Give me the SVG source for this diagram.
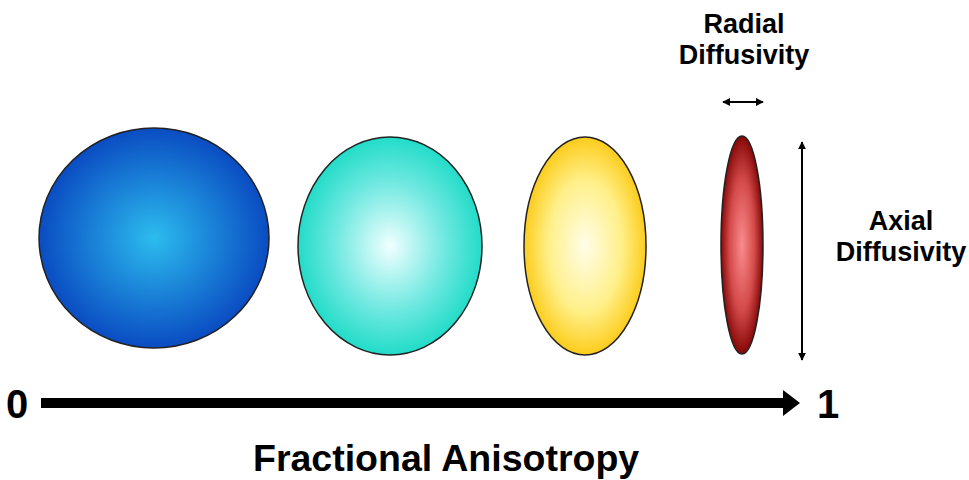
<svg xmlns="http://www.w3.org/2000/svg" width="969" height="480" viewBox="0 0 969 480">
<style>
.lbl{font-family:"Liberation Sans",Arial,sans-serif;font-weight:bold;font-size:27px;fill:#000;text-anchor:middle}
.ax{font-family:"Liberation Sans",Arial,sans-serif;font-weight:bold;font-size:40px;fill:#000}
.ell{stroke:#222;stroke-width:1.5}
.thin{stroke:#000;stroke-width:2;fill:none}
</style>
<defs>
<radialGradient id="gBlue" cx="0.5" cy="0.5" r="0.5">
<stop offset="0" stop-color="#2cbcee"/>
<stop offset="1" stop-color="#0a4cc2"/>
</radialGradient>
<radialGradient id="gCyan" cx="0.5" cy="0.5" r="0.5">
<stop offset="0" stop-color="#f0ffff"/>
<stop offset="0.6" stop-color="#6ee8e0"/>
<stop offset="1" stop-color="#22dcc8"/>
</radialGradient>
<radialGradient id="gYellow" cx="0.5" cy="0.5" r="0.5">
<stop offset="0" stop-color="#fffde8"/>
<stop offset="0.6" stop-color="#fff08a"/>
<stop offset="1" stop-color="#fccc1c"/>
</radialGradient>
<radialGradient id="gRed" cx="0.5" cy="0.5" r="0.5">
<stop offset="0" stop-color="#fa8c8c"/>
<stop offset="0.6" stop-color="#d44a4a"/>
<stop offset="1" stop-color="#860808"/>
</radialGradient>
<marker id="ah" viewBox="0 0 10 10" refX="9" refY="5" markerWidth="4" markerHeight="4" orient="auto-start-reverse" markerUnits="strokeWidth">
<path d="M0,0 L10,5 L0,10 z" fill="#000"/>
</marker>
</defs>
<g id="sphere-blue"><ellipse class="ell" cx="154" cy="238" rx="115" ry="110" fill="url(#gBlue)"/></g>
<g id="ellipsoid-cyan"><ellipse class="ell" cx="390" cy="246" rx="92" ry="109" fill="url(#gCyan)"/></g>
<g id="ellipsoid-yellow"><ellipse class="ell" cx="585" cy="246" rx="61" ry="109" fill="url(#gYellow)"/></g>
<g id="ellipsoid-red"><ellipse class="ell" cx="742" cy="245" rx="21" ry="109" fill="url(#gRed)"/></g>
<g id="label-radial"><text class="lbl" x="744" y="33">Radial</text><text class="lbl" x="744" y="64">Diffusivity</text></g>
<g id="label-axial"><text class="lbl" x="901" y="230">Axial</text><text class="lbl" x="901" y="261">Diffusivity</text></g>
<g id="connectors">
<line class="thin" x1="723" y1="102" x2="763" y2="102" marker-start="url(#ah)" marker-end="url(#ah)"/>
<line class="thin" x1="802" y1="142" x2="802" y2="360" marker-start="url(#ah)" marker-end="url(#ah)"/>
<rect x="41" y="398" width="744" height="10" fill="#000"/>
<path d="M783,390 L800,403 L783,416 z" fill="#000"/>
</g>
<g id="axis-labels">
<text class="ax" x="6" y="418">0</text>
<text class="ax" x="817" y="418">1</text>
<text class="ax" x="253" y="471" style="font-size:37.5px">Fractional Anisotropy</text>
</g>
</svg>
